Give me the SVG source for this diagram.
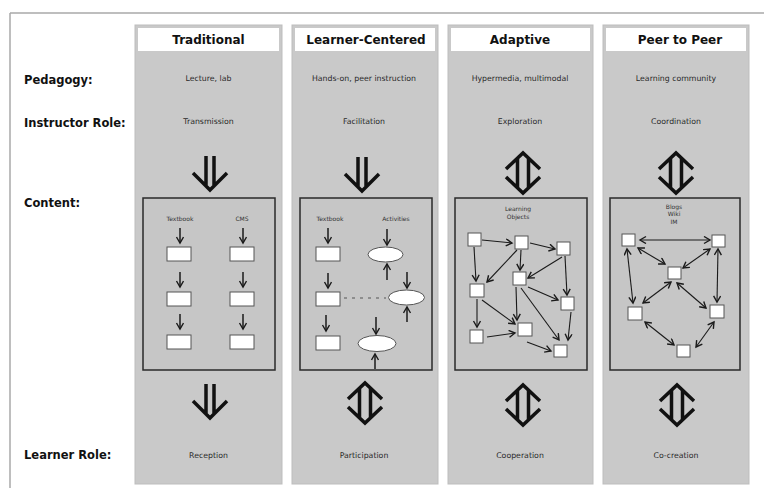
<svg xmlns="http://www.w3.org/2000/svg" width="764" height="488" viewBox="0 0 764 488">
<style>
.col{fill:#c9c9c9;stroke:#bdbdbd;stroke-width:1}
.hdr{fill:#ffffff}
.ht{font-family:"DejaVu Sans",Verdana,sans-serif;font-weight:bold;font-size:12px;fill:#111;text-anchor:middle}
.rl{font-family:"DejaVu Sans",Verdana,sans-serif;font-weight:bold;font-size:11.5px;fill:#111}
.st{font-family:"DejaVu Sans",Verdana,sans-serif;font-size:7.8px;fill:#2a2a2a;text-anchor:middle}
.lb{font-family:"DejaVu Sans",Verdana,sans-serif;font-size:6px;fill:#333;text-anchor:middle}
.box{fill:#c6c6c6;stroke:#2a2a2a;stroke-width:1.5}
.big{fill:none;stroke:#111;stroke-width:3.5;stroke-linejoin:miter;stroke-linecap:butt}
.sa{fill:none;stroke:#1a1a1a;stroke-width:1.5;marker-end:url(#ah)}
.la{fill:none;stroke:#1a1a1a;stroke-width:1.1;marker-end:url(#ah)}
.da{fill:none;stroke:#1a1a1a;stroke-width:1.1;marker-start:url(#ah);marker-end:url(#ah)}
.wb{fill:#ffffff;stroke:#555;stroke-width:1}
</style>
<defs>
<marker id="ah" markerUnits="userSpaceOnUse" markerWidth="10" markerHeight="10" refX="7" refY="4" orient="auto-start-reverse">
<path d="M1,0.5 L7,4 L1,7.5" fill="none" stroke="#1a1a1a" stroke-width="1.4"/>
</marker>
<path id="down" class="big" d="M-4,0 V30 M4,0 V30 M-17,17 L0,34 L17,17"/>
<path id="dbl" class="big" d="M-5.5,6 V36 M5.5,6 V36 M-17,17 L0,1 L17,17 M-17,25 L0,41 L17,25"/>
</defs>

<g id="frame">
<line x1="10" y1="13" x2="764" y2="13" stroke="#a8a8a8" stroke-width="1.5"/>
<line x1="10" y1="13" x2="10" y2="488" stroke="#a8a8a8" stroke-width="1.5"/>
</g>

<g id="row-labels">
<text class="rl" x="24" y="84">Pedagogy:</text>
<text class="rl" x="24" y="127">Instructor Role:</text>
<text class="rl" x="24" y="207">Content:</text>
<text class="rl" x="24" y="459">Learner Role:</text>
</g>

<g id="col-traditional">
<rect class="col" x="135" y="25" width="147" height="459"/>
<rect class="hdr" x="138" y="28" width="141" height="23"/>
<text class="ht" x="208.5" y="44">Traditional</text>
<text class="st" x="208.5" y="81">Lecture, lab</text>
<text class="st" x="208.5" y="124">Transmission</text>
<use href="#down" x="210" y="156"/>
<rect class="box" x="143" y="198" width="132" height="172"/>
<text class="lb" x="180" y="221">Textbook</text>
<text class="lb" x="242" y="221">CMS</text>
<rect class="wb" x="167" y="247" width="24" height="14"/>
<rect class="wb" x="167" y="292" width="24" height="14"/>
<rect class="wb" x="167" y="335" width="24" height="14"/>
<rect class="wb" x="230" y="247" width="24" height="14"/>
<rect class="wb" x="230" y="292" width="24" height="14"/>
<rect class="wb" x="230" y="335" width="24" height="14"/>
<use href="#down" x="210" y="384"/>
<text class="st" x="208.5" y="458">Reception</text>
</g>

<g id="col-learner-centered">
<rect class="col" x="292" y="25" width="146" height="459"/>
<rect class="hdr" x="295" y="28" width="140" height="23"/>
<text class="ht" x="366" y="44">Learner-Centered</text>
<text class="st" x="364" y="81">Hands-on, peer instruction</text>
<text class="st" x="364" y="124">Facilitation</text>
<use href="#down" x="362" y="157"/>
<rect class="box" x="300" y="198" width="132" height="172"/>
<text class="lb" x="330" y="221">Textbook</text>
<text class="lb" x="396" y="221">Activities</text>
<rect class="wb" x="316" y="247" width="24" height="14"/>
<rect class="wb" x="316" y="292" width="24" height="14"/>
<rect class="wb" x="316" y="336" width="24" height="14"/>
<ellipse class="wb" cx="385.5" cy="254.5" rx="17.5" ry="7.5"/>
<ellipse class="wb" cx="406.5" cy="297.5" rx="18" ry="7.5"/>
<ellipse class="wb" cx="377" cy="343.5" rx="19" ry="8"/>
<line x1="344" y1="298" x2="386" y2="298" stroke="#555" stroke-width="1" stroke-dasharray="3,5"/>
<use href="#dbl" x="365" y="382"/>
<text class="st" x="364" y="458">Participation</text>
</g>

<g id="col-adaptive">
<rect class="col" x="448" y="25" width="145" height="459"/>
<rect class="hdr" x="451" y="28" width="139" height="23"/>
<text class="ht" x="520" y="44">Adaptive</text>
<text class="st" x="520" y="81">Hypermedia, multimodal</text>
<text class="st" x="520" y="124">Exploration</text>
<use href="#dbl" x="523" y="152"/>
<rect class="box" x="455" y="198" width="132" height="172"/>
<text class="lb" x="518" y="211">Learning</text>
<text class="lb" x="518" y="219">Objects</text>
<rect class="wb" x="468" y="233" width="13" height="13"/>
<rect class="wb" x="515" y="236" width="13" height="13"/>
<rect class="wb" x="557" y="242" width="13" height="13"/>
<rect class="wb" x="470" y="284" width="14" height="13"/>
<rect class="wb" x="513" y="272" width="13" height="13"/>
<rect class="wb" x="561" y="297" width="13" height="13"/>
<rect class="wb" x="470" y="330" width="13" height="13"/>
<rect class="wb" x="518" y="323" width="14" height="13"/>
<rect class="wb" x="554" y="345" width="13" height="12"/>
<use href="#dbl" x="523" y="384"/>
<text class="st" x="520" y="458">Cooperation</text>
</g>

<g id="col-peer-to-peer">
<rect class="col" x="603" y="25" width="146" height="459"/>
<rect class="hdr" x="606" y="28" width="140" height="23"/>
<text class="ht" x="680" y="44">Peer to Peer</text>
<text class="st" x="676" y="81">Learning community</text>
<text class="st" x="676" y="124">Coordination</text>
<use href="#dbl" x="676" y="152"/>
<rect class="box" x="610" y="198" width="130" height="172"/>
<text class="lb" x="674" y="209">Blogs</text>
<text class="lb" x="674" y="216">Wiki</text>
<text class="lb" x="674" y="224">IM</text>
<rect class="wb" x="622" y="234" width="13" height="12"/>
<rect class="wb" x="712" y="235" width="13" height="12"/>
<rect class="wb" x="668" y="267" width="13" height="12"/>
<rect class="wb" x="628" y="307" width="14" height="13"/>
<rect class="wb" x="710" y="305" width="14" height="13"/>
<rect class="wb" x="677" y="345" width="13" height="12"/>
<use href="#dbl" x="677" y="384"/>
<text class="st" x="676" y="458">Co-creation</text>
</g>

<g id="connectors">
<line class="sa" x1="180" y1="228" x2="180" y2="243"/>
<line class="sa" x1="180" y1="272" x2="180" y2="287"/>
<line class="sa" x1="180" y1="314" x2="180" y2="329"/>
<line class="sa" x1="243" y1="228" x2="243" y2="243"/>
<line class="sa" x1="243" y1="272" x2="243" y2="287"/>
<line class="sa" x1="243" y1="314" x2="243" y2="329"/>
<line class="sa" x1="328" y1="228" x2="328" y2="243"/>
<line class="sa" x1="328" y1="273" x2="328" y2="288"/>
<line class="sa" x1="326" y1="315" x2="326" y2="331"/>
<line class="sa" x1="387" y1="229" x2="387" y2="245"/>
<line class="sa" x1="387" y1="280" x2="387" y2="264"/>
<line class="sa" x1="407" y1="272" x2="407" y2="288"/>
<line class="sa" x1="407" y1="322" x2="407" y2="307"/>
<line class="sa" x1="376" y1="317" x2="376" y2="334"/>
<line class="sa" x1="375" y1="369" x2="375" y2="354"/>
<line class="la" x1="482" y1="240" x2="512" y2="243"/>
<line class="la" x1="530" y1="243" x2="555" y2="249"/>
<line class="la" x1="474" y1="247" x2="476" y2="281"/>
<line class="la" x1="517" y1="250" x2="487" y2="282"/>
<line class="la" x1="521" y1="250" x2="520" y2="270"/>
<line class="la" x1="562" y1="257" x2="528" y2="278"/>
<line class="la" x1="565" y1="256" x2="567" y2="295"/>
<line class="la" x1="528" y1="287" x2="558" y2="300"/>
<line class="la" x1="516" y1="287" x2="517" y2="320"/>
<line class="la" x1="521" y1="288" x2="559" y2="340"/>
<line class="la" x1="477" y1="299" x2="477" y2="327"/>
<line class="la" x1="482" y1="300" x2="515" y2="324"/>
<line class="la" x1="487" y1="337" x2="515" y2="333"/>
<line class="la" x1="527" y1="342" x2="551" y2="351"/>
<line class="la" x1="571" y1="312" x2="568" y2="340"/>
<line class="da" x1="640" y1="240" x2="710" y2="240"/>
<line class="da" x1="638" y1="248" x2="665" y2="264"/>
<line class="da" x1="710" y1="249" x2="683" y2="268"/>
<line class="da" x1="627" y1="249" x2="633" y2="303"/>
<line class="da" x1="718" y1="249" x2="717" y2="302"/>
<line class="da" x1="671" y1="282" x2="643" y2="303"/>
<line class="da" x1="677" y1="283" x2="706" y2="308"/>
<line class="da" x1="645" y1="322" x2="674" y2="345"/>
<line class="da" x1="714" y1="322" x2="696" y2="347"/>
</g>
</svg>
